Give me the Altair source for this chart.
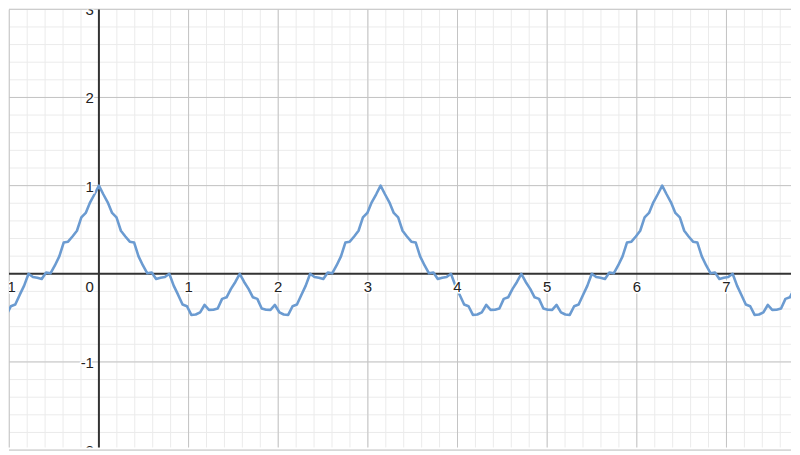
import altair as alt
import pandas as pd

# curve samples
curve_x = [
    -1.031, -0.982, -0.933, -0.884, -0.834, -0.785, -0.736, -0.687, -0.638, -0.589,
    -0.540, -0.491, -0.442, -0.393, -0.344, -0.295, -0.245, -0.196, -0.147, -0.098,
    -0.049, 0.000, 0.049, 0.098, 0.147, 0.196, 0.245, 0.295, 0.344, 0.393,
    0.442, 0.491, 0.540, 0.589, 0.638, 0.687, 0.736, 0.785, 0.834, 0.884,
    0.933, 0.982, 1.031, 1.080, 1.129, 1.178, 1.227, 1.276, 1.325, 1.374,
    1.424, 1.473, 1.522, 1.571, 1.620, 1.669, 1.718, 1.767, 1.816, 1.865,
    1.914, 1.963, 2.013, 2.062, 2.111, 2.160, 2.209, 2.258, 2.307, 2.356,
    2.405, 2.454, 2.503, 2.553, 2.602, 2.651, 2.700, 2.749, 2.798, 2.847,
    2.896, 2.945, 2.994, 3.043, 3.093, 3.142, 3.191, 3.240, 3.289, 3.338,
    3.387, 3.436, 3.485, 3.534, 3.583, 3.633, 3.682, 3.731, 3.780, 3.829,
    3.878, 3.927, 3.976, 4.025, 4.074, 4.123, 4.172, 4.221, 4.271, 4.320,
    4.369, 4.418, 4.467, 4.516, 4.565, 4.614, 4.663, 4.712, 4.761, 4.811,
    4.860, 4.909, 4.958, 5.007, 5.056, 5.105, 5.154, 5.203, 5.252, 5.301,
    5.351, 5.400, 5.449, 5.498, 5.547, 5.596, 5.645, 5.694, 5.743, 5.792,
    5.841, 5.890, 5.940, 5.989, 6.038, 6.087, 6.136, 6.185, 6.234, 6.283,
    6.332, 6.381, 6.430, 6.480, 6.529, 6.578, 6.627, 6.676, 6.725, 6.774,
    6.823, 6.872, 6.921, 6.970, 7.020, 7.069, 7.118, 7.167, 7.216, 7.265,
    7.314, 7.363, 7.412, 7.461, 7.510, 7.559, 7.609, 7.658, 7.707, 7.756,
]

curve_y = [
    -0.467, -0.368, -0.349, -0.240, -0.135, 0.000, -0.037, -0.045, -0.059, 0.015,
    0.005, 0.094, 0.197, 0.354, 0.364, 0.423, 0.488, 0.639, 0.690, 0.810,
    0.902,
    1.000, 0.902, 0.810, 0.690, 0.639, 0.488, 0.423, 0.364, 0.354, 0.197,
    0.094, 0.005, 0.015, -0.059, -0.045, -0.037, 0.000, -0.135, -0.240, -0.349,
    -0.368, -0.467, -0.462, -0.437, -0.354, -0.409, -0.408, -0.394, -0.285, -0.267,
    -0.171, -0.093, 0.000, -0.093, -0.171, -0.267, -0.285, -0.394, -0.408, -0.409,
    -0.354, -0.437, -0.462, -0.467, -0.368, -0.349, -0.240, -0.135, 0.000, -0.037,
    -0.045, -0.059, 0.015, 0.005, 0.094, 0.197, 0.354, 0.364, 0.423, 0.488,
    0.639, 0.690, 0.810, 0.902,
    1.000, 0.902, 0.810, 0.690, 0.639, 0.488, 0.423, 0.364, 0.354, 0.197,
    0.094, 0.005, 0.015, -0.059, -0.045, -0.037, 0.000, -0.135, -0.240, -0.349,
    -0.368, -0.467, -0.462, -0.437, -0.354, -0.409, -0.408, -0.394, -0.285, -0.267,
    -0.171, -0.093, 0.000, -0.093, -0.171, -0.267, -0.285, -0.394, -0.408, -0.409,
    -0.354, -0.437, -0.462, -0.467, -0.368, -0.349, -0.240, -0.135, 0.000, -0.037,
    -0.045, -0.059, 0.015, 0.005, 0.094, 0.197, 0.354, 0.364, 0.423, 0.488,
    0.639, 0.690, 0.810, 0.902,
    1.000, 0.902, 0.810, 0.690, 0.639, 0.488, 0.423, 0.364, 0.354, 0.197,
    0.094, 0.005, 0.015, -0.059, -0.045, -0.037, 0.000, -0.135, -0.240, -0.349,
    -0.368, -0.467, -0.462, -0.437, -0.354, -0.409, -0.408, -0.394, -0.285, -0.267,
    -0.171,
]

x_major = [-1, 1, 2, 3, 4, 5, 6, 7]
y_major = [-2, -1, 1, 2, 3]
x_minor = [round(-1.0 + 0.2 * i, 1) for i in range(44)]
y_minor = [round(-2.0 + 0.2 * i, 1) for i in range(26)]
x_labels = ["-1", "1", "2", "3", "4", "5", "6", "7"]
y_labels = ["-2", "-1", "1", "2", "3"]

W, H = 784, 439
xs = alt.Scale(domain=[-1.003, 7.72], nice=False, zero=False)
ys = alt.Scale(domain=[-1.97, 2.997], nice=False, zero=False)

curve = pd.DataFrame({"x": curve_x, "y": curve_y})

def vrules(vals, color, width):
    return alt.Chart(pd.DataFrame({"v": vals})).mark_rule(
        color=color, strokeWidth=width).encode(x=alt.X("v:Q", scale=xs, axis=None))

def hrules(vals, color, width):
    return alt.Chart(pd.DataFrame({"v": vals})).mark_rule(
        color=color, strokeWidth=width).encode(y=alt.Y("v:Q", scale=ys, axis=None))

minor = vrules(x_minor, "#ebebeb", 1) + hrules(y_minor, "#ebebeb", 1)
major = vrules(x_major, "#c4c4c4", 1) + hrules(y_major, "#c4c4c4", 1)
axes = vrules([0], "#333333", 2) + hrules([0], "#333333", 2)

line = alt.Chart(curve).mark_line(
    color="#6b9bd1", strokeWidth=2.6, clip=True, strokeJoin="round"
).encode(
    x=alt.X("x:Q", scale=xs, axis=None),
    y=alt.Y("y:Q", scale=ys, axis=None),
)

xl = pd.DataFrame({"x": x_major, "y": [0] * len(x_major), "t": x_labels})
yl = pd.DataFrame({"x": [0] * len(y_major), "y": y_major, "t": y_labels})
zl = pd.DataFrame({"x": [0], "y": [0], "t": ["0"]})

def labels(df, align, baseline, dx, dy):
    enc = dict(x=alt.X("x:Q", scale=xs, axis=None),
               y=alt.Y("y:Q", scale=ys, axis=None), text="t:N")
    halo = alt.Chart(df).mark_text(
        font="Liberation Sans", fontSize=15, align=align, baseline=baseline,
        dx=dx, dy=dy, stroke="white", strokeWidth=3, color="white", clip=True
    ).encode(**enc)
    txt = alt.Chart(df).mark_text(
        font="Liberation Sans", fontSize=15, align=align, baseline=baseline,
        dx=dx, dy=dy, color="#222222", clip=True
    ).encode(**enc)
    return halo + txt

lab = (labels(xl, "center", "top", 0, 6)
       + labels(yl, "right", "middle", -5, 1)
       + labels(zl, "right", "top", -5, 6))

chart = alt.layer(minor, major, axes, line, lab).properties(
    width=W, height=H, padding=0, background="white"
).configure_view(stroke=None)

chart.save("out.html", embed_options={"renderer": "svg", "actions": False})
